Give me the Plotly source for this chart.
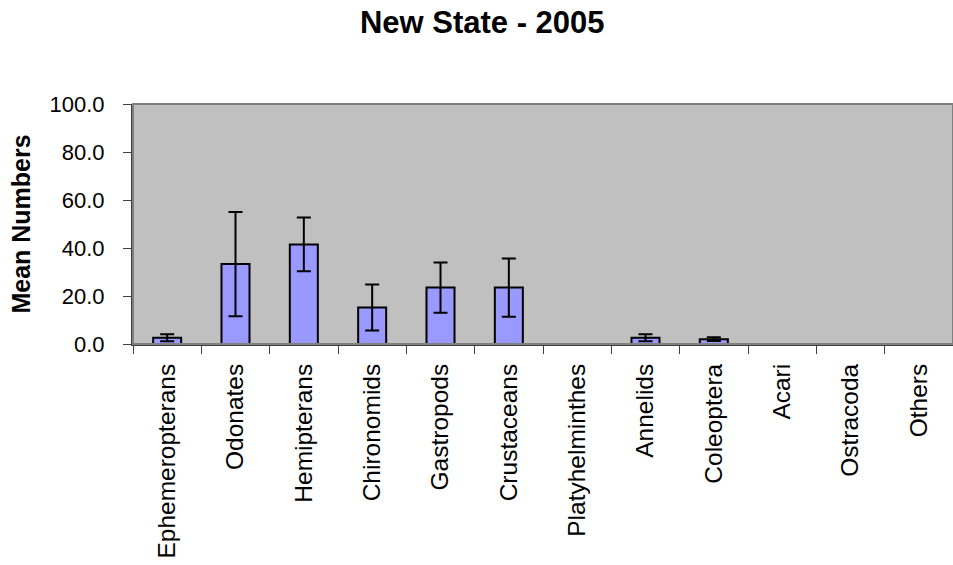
import plotly.graph_objects as go

categories = [
    "Ephemeropterans", "Odonates", "Hemipterans", "Chironomids", "Gastropods",
    "Crustaceans", "Platyhelminthes", "Annelids", "Coleoptera", "Acari",
    "Ostracoda", "Others",
]
mean_numbers = [2.6, 33.3, 41.5, 15.2, 23.5, 23.5, 0.0, 2.6, 2.0, 0.0, 0.0, 0.0]
errors = [1.5, 21.7, 11.2, 9.6, 10.5, 12.1, 0.0, 1.5, 0.8, 0.0, 0.0, 0.0]

FONT = "Arial, Liberation Sans, sans-serif"

fig = go.Figure(
    go.Bar(
        x=categories,
        y=mean_numbers,
        marker=dict(color="#9999FF", line=dict(color="black", width=2)),
        error_y=dict(type="data", array=errors, visible=True,
                     color="black", thickness=2, width=7),
        width=0.41,
    )
)

fig.update_layout(
    width=953,
    height=565,
    margin={"t": 104, "r": 0, "b": 221, "l": 133},
    paper_bgcolor="white",
    plot_bgcolor="#C0C0C0",
    showlegend=False,
    font=dict(family=FONT, color="black", size=22),
    title=dict(
        text="<b>New State - 2005</b>",
        font=dict(family=FONT, size=31, color="black"),
        x=0.506, xanchor="center", xref="container",
        y=1 - 22 / 565, yanchor="middle", yref="container",
    ),
    shapes=[
        dict(type="rect", xref="paper", yref="paper", x0=0, x1=1, y0=0, y1=1,
             line=dict(color="#808080", width=2), layer="above"),
    ],
)

fig.update_xaxes(
    showgrid=False,
    zeroline=False,
    showline=True,
    linecolor="#404040",
    linewidth=2,
    ticks="outside",
    tickson="boundaries",
    ticklen=8,
    tickwidth=1,
    tickcolor="#404040",
    tickangle=-90,
    tickfont=dict(family=FONT, size=24.5),
    ticklabelstandoff=8,
)
fig.update_yaxes(
    range=[0, 100],
    tickvals=[0, 20, 40, 60, 80, 100],
    tickformat=".1f",
    showgrid=False,
    zeroline=False,
    showline=True,
    linecolor="#404040",
    linewidth=2,
    ticks="outside",
    ticklen=8,
    tickwidth=1,
    tickcolor="#404040",
    tickfont=dict(family=FONT, size=22),
    ticklabelstandoff=14,
    title=dict(text="<b>Mean Numbers</b>",
               font=dict(family=FONT, size=25), standoff=12),
)

# drop the page's default body margin so the figure sits at the corner
fig.write_html(
    "out.html",
    config={"displayModeBar": False},
    post_script="document.body.style.margin='0';document.body.style.overflow='hidden';",
)
